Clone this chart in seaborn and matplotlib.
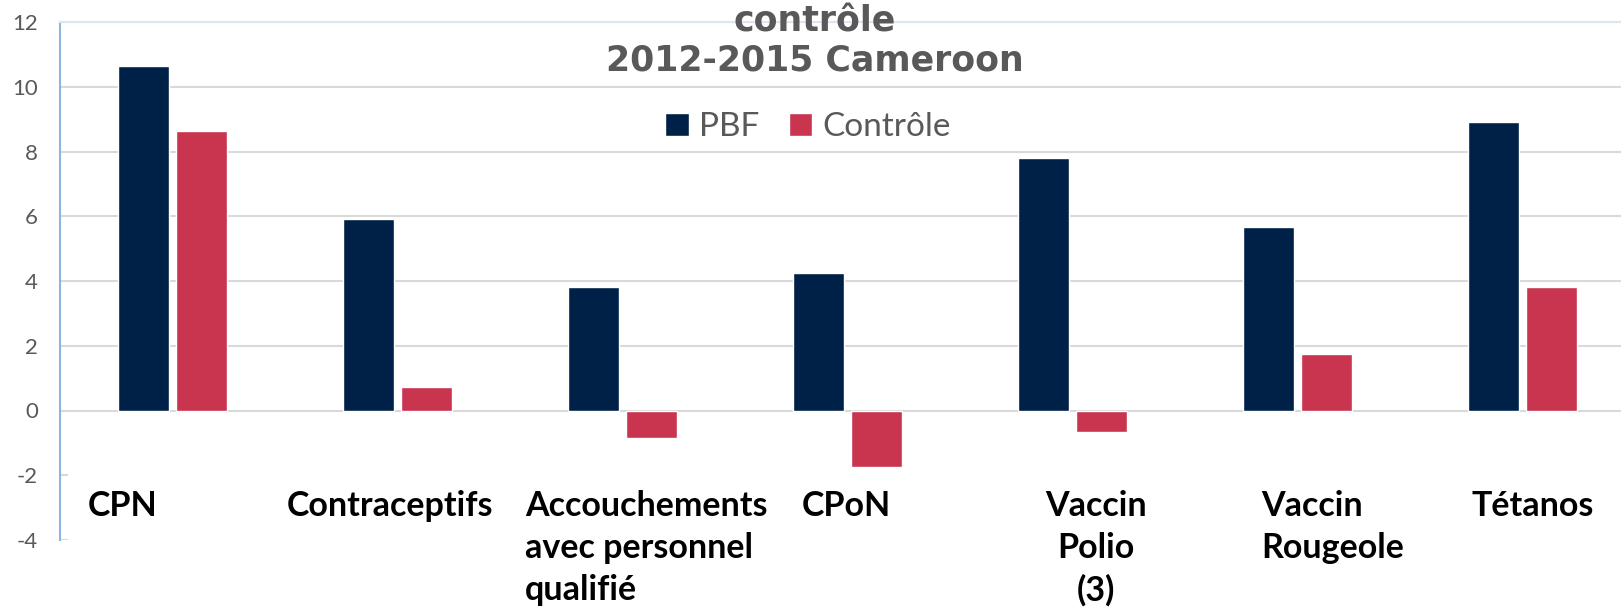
import pandas as pd
import matplotlib.pyplot as plt
import seaborn as sns
from matplotlib.patches import Rectangle

# data
indicateurs = ["CPN", "Contraceptifs", "Accouchements\navec personnel\nqualifié", "CPoN",
               "Vaccin\nPolio\n(3)", "Vaccin\nRougeole", "Tétanos"]
groupes = ["PBF", "Contrôle"]
pbf = [10.65, 5.91, 3.82, 4.24, 7.81, 5.66, 8.90]
controle = [8.62, 0.73, -0.84, -1.75, -0.67, 1.74, 3.83]
yticks = [-4, -2, 0, 2, 4, 6, 8, 10, 12]

# label placement (offset from category centre, alignment)
label_dx = [-0.376, -0.491, -0.433, -0.202, 0.104, -0.16, -0.226]
label_ha = ["left", "left", "left", "left", "center", "left", "left"]

colors = {"PBF": "#002147", "Contrôle": "#C9344F"}

df = pd.DataFrame({
    "indicateur": indicateurs * 2,
    "groupe": ["PBF"] * len(pbf) + ["Contrôle"] * len(controle),
    "valeur": pbf + controle,
})

sns.set_style("white")
plt.rcParams["font.family"] = ["Lato", "DejaVu Sans"]
plt.rcParams["axes.unicode_minus"] = False

fig = plt.figure(figsize=(16.21, 6.09), dpi=100)
ax = fig.add_axes([60 / 1621, 69 / 609, 1575 / 1621, 518 / 609])

sns.barplot(data=df, x="indicateur", y="valeur", hue="groupe", order=indicateurs,
            hue_order=groupes, palette=colors, saturation=1, width=0.51, gap=0.11,
            legend=False, ax=ax, zorder=2)

ax.set_ylim(-4, 12)
ax.set_xlim(-0.5, len(indicateurs) - 0.5)
ax.set_yticks(yticks)
ax.grid(axis="y", color="#D9D9D9", lw=1.5, zorder=0)
ax.set_axisbelow(True)

# white band hiding the gridlines under the category labels
ax.add_patch(Rectangle((8 / 1575, 0), 1, 2.9 / 16, transform=ax.transAxes,
                       facecolor="white", edgecolor="none", zorder=1))

for s in ["right", "bottom"]:
    ax.spines[s].set_visible(False)
ax.spines["top"].set_color("#DCE6F2")
ax.spines["top"].set_linewidth(1.5)
ax.spines["left"].set_color("#8DB4E2")
ax.spines["left"].set_linewidth(1.5)

ax.tick_params(axis="y", direction="in", length=8, width=1.5, color="#D9D9D9",
               labelsize=16, labelcolor="#595959", pad=16)
ax.set_xticks([])
ax.set_xlabel("")
ax.set_ylabel("")

for i, lab in enumerate(indicateurs):
    ax.text(i + label_dx[i], -2.45, lab, ha=label_ha[i], va="top",
            fontsize=24.5, fontweight="bold", color="black", linespacing=1.38)

ax.legend(ax.containers, groupes, loc="center", bbox_to_anchor=(808 / 1621, 1 - 127 / 609),
          bbox_transform=fig.transFigure, ncol=2, frameon=False, fontsize=24,
          labelcolor="#595959", handlelength=0.7, handleheight=0.7,
          handletextpad=0.3, columnspacing=0.9)

fig.text(815 / 1621, 1 - 41 / 609, "contrôle\n2012-2015 Cameroon", ha="center", va="center",
         fontsize=25, fontweight="bold", color="#595959", family="DejaVu Sans",
         linespacing=1.15)

fig.savefig("out.png", dpi=100)
